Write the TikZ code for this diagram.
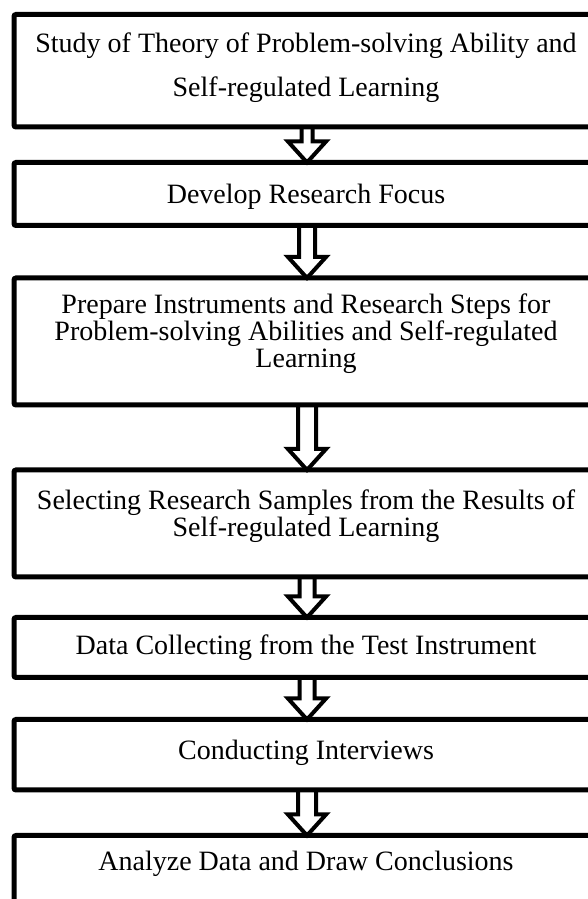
\documentclass[tikz,border=0pt]{standalone}
\usepackage{fontspec}
\setmainfont{Liberation Serif}
\usetikzlibrary{calc,backgrounds}

\tikzset{
  stepbox/.style={draw=black, line width=5pt, rounded corners=2pt,
    minimum width=586pt, outer sep=0pt, inner sep=0pt},
  steptext/.style={anchor=base, inner sep=0pt, font=\fontsize{28}{28}\selectfont},
  hollow/.style={draw=black, fill=white, line width=4pt, line join=miter},
}

% hollow block arrow from the bottom of box #1 to the top of box #2,
% #3 = half width of the shaft
\newcommand\flowarrow[3]{%
  \draw[hollow] ($(#1.south)+(-#3,0)$) -- ($(#2.north)+(-#3,21)$)
    -- ($(#2.north)+(-19,21)$) -- (#2.north) -- ($(#2.north)+(19,21)$)
    -- ($(#2.north)+(#3,21)$) -- ($(#1.south)+(#3,0)$);}

\begin{document}
\begin{tikzpicture}[x=1pt,y=1pt]
\useasboundingbox (0,0) rectangle (588,899);

% process steps
\node[stepbox, minimum height=112.5pt] (b1) at (307,828.25) {};
\node[stepbox, minimum height=63pt]    (b2) at (307,705) {};
\node[stepbox, minimum height=127pt]   (b3) at (307,557.5) {};
\node[stepbox, minimum height=107pt]   (b4) at (307,375.5) {};
\node[stepbox, minimum height=60pt]    (b5) at (307,251.5) {};
\node[stepbox, minimum height=70.5pt]  (b6) at (307,144.25) {};
\node[stepbox, minimum height=83.5pt]  (b7) at (307,21.75) {};

% step labels
\node[steptext] (t1a) at (306,846) {Study of Theory of Problem-solving Ability and};
\node[steptext] (t1b) at (306,802) {Self-regulated Learning};
\node[steptext] (t2)  at (306,695) {Develop Research Focus};
\node[steptext] (t3a) at (306,585) {Prepare Instruments and Research Steps for};
\node[steptext] (t3b) at (306,558) {Problem-solving Abilities and Self-regulated};
\node[steptext] (t3c) at (306,531) {Learning};
\node[steptext] (t4a) at (306,389) {Selecting Research Samples from the Results of};
\node[steptext] (t4b) at (306,362) {Self-regulated Learning};
\node[steptext] (t5)  at (306,244) {Data Collecting from the Test Instrument};
\node[steptext] (t6)  at (306,139) {Conducting Interviews};
\node[steptext] (t7)  at (306,28)  {Analyze Data and Draw Conclusions};

% arrows between the steps
\begin{scope}[on background layer]
  \flowarrow{b1}{b2}{5.5}
  \flowarrow{b2}{b3}{8}
  \flowarrow{b3}{b4}{9}
  \flowarrow{b4}{b5}{7.5}
  \flowarrow{b5}{b6}{7.5}
  \flowarrow{b6}{b7}{9}
\end{scope}
\end{tikzpicture}
\end{document}
